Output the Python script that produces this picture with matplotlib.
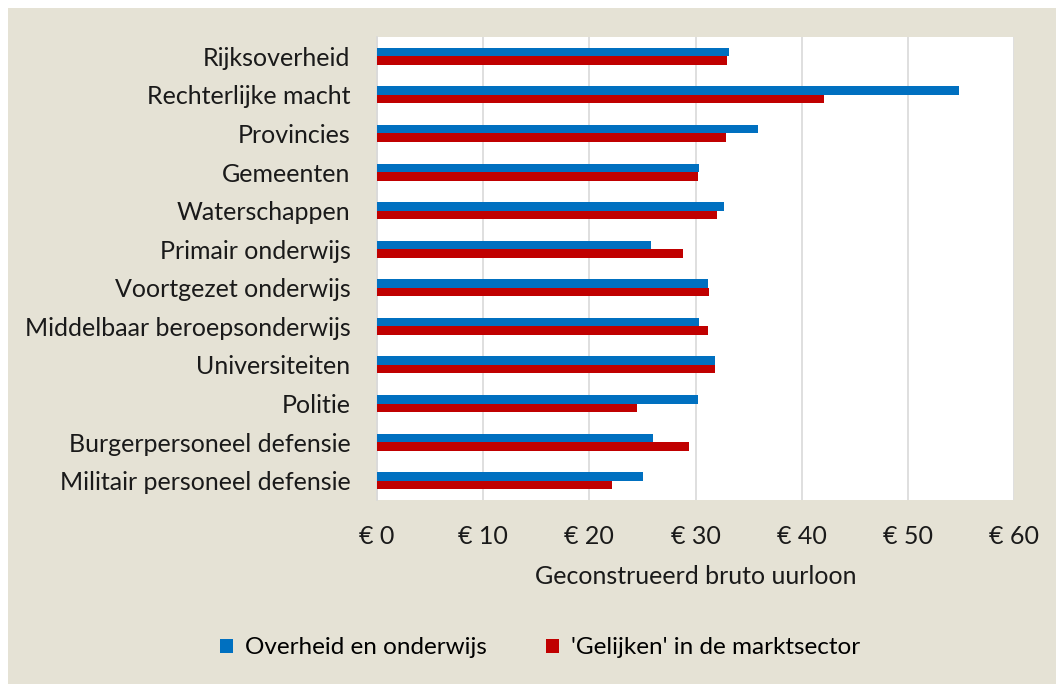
import numpy as np
import matplotlib
matplotlib.use("Agg")
import matplotlib.pyplot as plt
from matplotlib.patches import Rectangle

# categorieen (van boven naar beneden)
categories = ["Rijksoverheid", "Rechterlijke macht", "Provincies", "Gemeenten",
              "Waterschappen", "Primair onderwijs", "Voortgezet onderwijs",
              "Middelbaar beroepsonderwijs", "Universiteiten", "Politie",
              "Burgerpersoneel defensie", "Militair personeel defensie"]
overheid = [33.2, 54.8, 35.9, 30.3, 32.7, 25.8, 31.2, 30.3, 31.8, 30.2, 26.0, 25.1]
markt = [33.0, 42.1, 32.9, 30.2, 32.0, 28.8, 31.3, 31.2, 31.8, 24.5, 29.4, 22.1]
xticks = [0, 10, 20, 30, 40, 50, 60]

blue = "#0070C0"
red = "#C00000"
beige = "#E5E2D5"
txt = "#1a1a1a"

plt.rcParams['font.family'] = ['Lato', 'DejaVu Sans']

fig = plt.figure(figsize=(10.56, 6.84), dpi=100)
fig.patch.set_facecolor("white")
# beige achtergrond met witte rand links/boven
fig.patches.append(Rectangle((8/1056, 0), 1, 1 - 8/684, transform=fig.transFigure,
                             facecolor=beige, edgecolor="none", zorder=-10))

ax = fig.add_axes([377/1056, 1 - 500/684, 637/1056, 463/684])
ax.set_facecolor("white")

y = np.arange(len(categories))
h = 0.22
ax.barh(y - h/2, overheid, height=h, color=blue, label="Overheid en onderwijs", zorder=3)
ax.barh(y + h/2, markt, height=h, color=red, label="'Gelijken' in de marktsector", zorder=3)

ax.set_ylim(len(categories) - 0.5, -0.5)
ax.set_yticks(y)
ax.set_yticklabels(categories, fontsize=18, color=txt)
ax.set_xlim(0, 60)
ax.set_xticks(xticks)
ax.set_xticklabels([f"€ {v}" for v in xticks], fontsize=18, color=txt)
ax.tick_params(length=0)
ax.tick_params(axis="y", pad=19)
ax.tick_params(axis="x", pad=18)
ax.grid(axis="x", color="#D9D9D9", linewidth=1.2, zorder=0)
for s in ["top", "right", "bottom"]:
    ax.spines[s].set_visible(False)
ax.spines["left"].set_color("#D9D9D9")
ax.spines["left"].set_linewidth(1.2)

ax.set_xlabel("Geconstrueerd bruto uurloon", fontsize=18, color=txt)
ax.xaxis.set_label_coords(0.5, -(577 - 500) / 463)
ax.xaxis.label.set_verticalalignment("center")

fig.legend(loc="center", bbox_to_anchor=(540/1056, 1 - 648/684), ncol=2, frameon=False,
           fontsize=17.5, handlelength=0.55, handleheight=0.55, handletextpad=0.5,
           columnspacing=2.4)

fig.savefig("out.png", dpi=100, facecolor=fig.get_facecolor())
